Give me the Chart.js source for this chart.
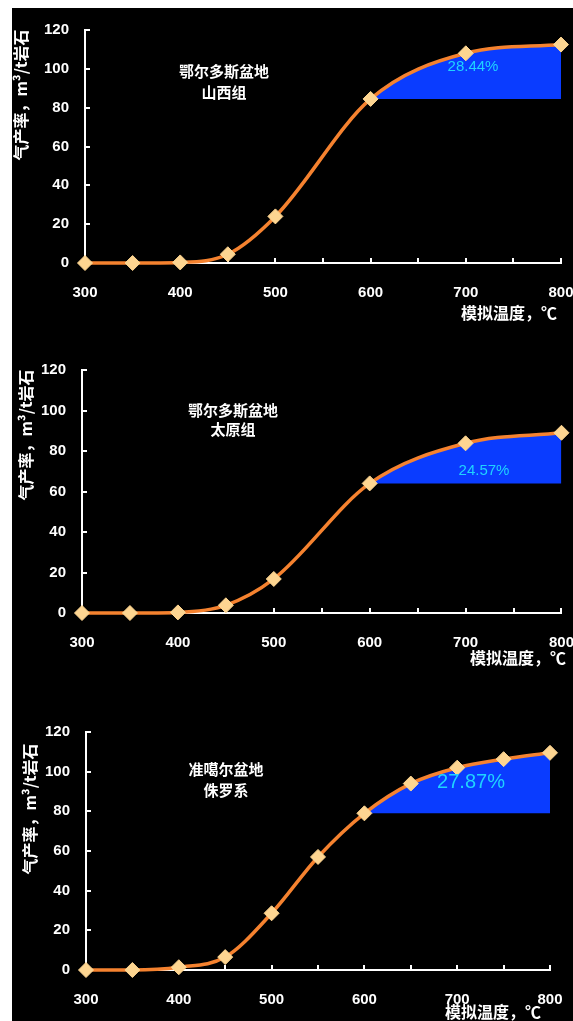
<!DOCTYPE html>
<html>
<head>
<meta charset="utf-8">
<script src="https://cdn.jsdelivr.net/npm/chart.js@4/dist/chart.umd.min.js"></script>
<style>
  html, body { margin: 0; padding: 0; background: #fff; width: 573px; height: 1021px; overflow: hidden; position: relative; }
  #panel { position: absolute; left: 12px; top: 8px; right: 0; bottom: 0; background: #000; }
  .box { position: absolute; left: 0; width: 600px; }
  canvas { display: block; }
</style>
</head>
<body>
<div id="panel"></div>
<div class="box" style="top:0;height:340px"><canvas id="c1" width="600" height="340"></canvas></div>
<div class="box" style="top:340px;height:340px"><canvas id="c2" width="600" height="340"></canvas></div>
<div class="box" style="top:680px;height:341px"><canvas id="c3" width="600" height="341"></canvas></div>
<script>
// Simulated pyrolysis temperature (°C)
const tempsOrdos = [300, 350, 400, 450, 500, 600, 700, 800];
const tempsJunggar = [300, 350, 400, 450, 500, 550, 600, 650, 700, 750, 800];

// Gas yield (m³/t rock)
const yieldShanxi = [0, 0, 0.3, 4.5, 24, 84.5, 108, 112.5];
const yieldTaiyuan = [0, 0, 0.3, 3.8, 16.8, 64, 83.8, 89];
const yieldJurassic = [0, 0, 1.4, 6.5, 28.6, 57, 79, 94, 102, 106.3, 109.5];

// Panel captions and high-temperature gas share labels
const basins = ['鄂尔多斯盆地', '鄂尔多斯盆地', '准噶尔盆地'];
const formations = ['山西组', '太原组', '侏罗系'];
const highTempShare = ['28.44%', '24.57%', '27.87%'];

// Axis settings
const xMin = 300, xMax = 800, xLabelStep = 100, xTickStep = 50;
const yMin = 0, yMax = 120, yTickStep = 20;
const shadeFrom = 600;
const xTitle = '模拟温度，℃';
const yTitle = '气产率，m³/t岩石';

// Page layout of each panel (pixel geometry, page coordinates)
const layouts = [
  { id: 'c1', top: 0,   h: 340, left: 85, right: 561,   aTop: 15,  aBottom: 263,
    cap: [224, 71, 92], share: [473, 67, 15], xT: [557, 313], yT: [21, 95] },
  { id: 'c2', top: 340, h: 340, left: 82, right: 563.5, aTop: 365, aBottom: 613,
    cap: [233, 410, 429], share: [484, 471, 15], xT: [566, 658], yT: [26, 435] },
  { id: 'c3', top: 680, h: 341, left: 86, right: 550,   aTop: 732, aBottom: 970,
    cap: [226, 769, 790], share: [471, 782, 20], xT: [541, 1012], yT: [30, 809] }
];

const series = [
  { temps: tempsOrdos, values: yieldShanxi },
  { temps: tempsOrdos, values: yieldTaiyuan },
  { temps: tempsJunggar, values: yieldJurassic }
];

const WHITE = '#ffffff';
const ORANGE = '#f5822f';
const MARKER = '#fdd591';
const SHADE = '#0a3cff';
const SHARE_TXT = '#1fd3ff';
const NUM_FONT = '"Liberation Sans", Arial, sans-serif';
const CJK_FONT = '"Noto Sans CJK SC", "Noto Sans", sans-serif';

function makeChart(i) {
  const L = layouts[i];
  const s = series[i];
  const points = s.temps.map((t, k) => ({ x: t, y: s.values[k] }));
  const baseVal = s.values[s.temps.indexOf(shadeFrom)];
  const off = L.top;

  const captions = {
    id: 'captions',
    afterDraw(chart) {
      const ctx = chart.ctx;
      ctx.save();
      ctx.fillStyle = WHITE;
      ctx.textAlign = 'center';
      ctx.textBaseline = 'middle';
      ctx.font = 'bold 15px ' + CJK_FONT;
      ctx.fillText(basins[i], L.cap[0], L.cap[1] - off);
      ctx.fillText(formations[i], L.cap[0], L.cap[2] - off);

      ctx.fillStyle = SHARE_TXT;
      ctx.font = L.share[2] + 'px ' + NUM_FONT;
      ctx.fillText(highTempShare[i], L.share[0], L.share[1] - off);

      ctx.fillStyle = WHITE;
      ctx.font = 'bold 16px ' + CJK_FONT;
      ctx.textAlign = 'right';
      ctx.fillText(xTitle, L.xT[0], L.xT[1] - off);

      ctx.translate(L.yT[0], L.yT[1] - off);
      ctx.rotate(-Math.PI / 2);
      ctx.textAlign = 'center';
      ctx.fillText(yTitle, 0, 0);
      ctx.restore();
    }
  };

  return new Chart(document.getElementById(L.id), {
    type: 'line',
    data: {
      datasets: [{
        data: points,
        borderColor: ORANGE,
        borderWidth: 3.5,
        backgroundColor: SHADE,
        cubicInterpolationMode: 'monotone',
        fill: { value: baseVal },
        segment: {
          backgroundColor: c => (c.p0.parsed.x >= shadeFrom ? SHADE : 'rgba(0,0,0,0)')
        },
        pointStyle: 'rectRot',
        pointRadius: 7.5,
        pointHoverRadius: 7.5,
        pointBackgroundColor: MARKER,
        pointBorderColor: MARKER,
        pointBorderWidth: 1,
        clip: false
      }]
    },
    options: {
      responsive: false,
      animation: false,
      events: [],
      layout: { padding: { left: 0, top: L.aTop - off, right: 600 - L.right, bottom: 0 } },
      plugins: { legend: { display: false }, tooltip: { enabled: false } },
      scales: {
        x: {
          type: 'linear',
          min: xMin, max: xMax,
          afterFit: sc => { sc.height = L.top + L.h - L.aBottom; },
          grid: { display: true, drawOnChartArea: false, color: WHITE, lineWidth: 2, tickLength: -5 },
          border: { display: true, color: WHITE, width: 2 },
          ticks: {
            stepSize: xTickStep, autoSkip: false, maxRotation: 0, padding: 26,
            color: WHITE, font: { family: NUM_FONT, size: 15, weight: 'bold' },
            callback: v => (v % xLabelStep === 0 ? String(v) : '')
          }
        },
        y: {
          min: yMin, max: yMax,
          afterFit: sc => { sc.width = L.left; },
          grid: { display: true, drawOnChartArea: false, color: WHITE, lineWidth: 2, tickLength: -5 },
          border: { display: true, color: WHITE, width: 2 },
          ticks: {
            stepSize: yTickStep, padding: 21,
            color: WHITE, font: { family: NUM_FONT, size: 15, weight: 'bold' }
          }
        }
      }
    },
    plugins: [captions]
  });
}

[0, 1, 2].forEach(makeChart);
</script>
</body>
</html>
